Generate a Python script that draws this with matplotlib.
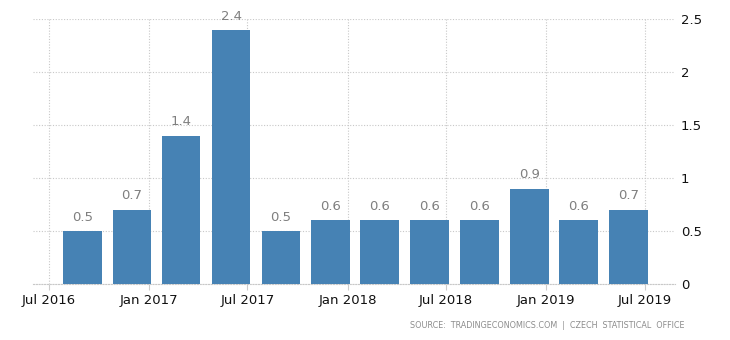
import numpy as np
import pandas as pd
from matplotlib import pyplot as plt
import matplotlib.dates as mdates

# quarterly values (bars drawn at first day of last month of quarter)
dates = pd.to_datetime(["2016-09-01", "2016-12-01", "2017-03-01", "2017-06-01",
                        "2017-09-01", "2017-12-01", "2018-03-01", "2018-06-01",
                        "2018-09-01", "2018-12-01", "2019-03-01", "2019-06-01"])
values = [0.5, 0.7, 1.4, 2.4, 0.5, 0.6, 0.6, 0.6, 0.6, 0.9, 0.6, 0.7]
tick_dates = pd.to_datetime(["2016-07-01", "2017-01-01", "2017-07-01", "2018-01-01",
                             "2018-07-01", "2019-01-01", "2019-07-01"])
tick_labels = ["Jul 2016", "Jan 2017", "Jul 2017", "Jan 2018",
               "Jul 2018", "Jan 2019", "Jul 2019"]
y_ticks = [0, 0.5, 1, 1.5, 2, 2.5]
y_labels = ["0", "0.5", "1", "1.5", "2", "2.5"]

fig = plt.figure(figsize=(7.3, 3.4), dpi=100)
ax = fig.add_axes([0.045, 0.165, 0.88, 0.778])

x = mdates.date2num(dates)
ax.bar(x, values, width=71, color="#4682b4", zorder=3)
for xi, v in zip(x, values):
    ax.text(xi, v + 0.07, f"{v:.1f}", ha="center", va="bottom",
            fontsize=9.5, color="#7f7f7f", zorder=4)

ax.set_xlim(mdates.date2num(pd.Timestamp("2016-06-02")),
            mdates.date2num(pd.Timestamp("2019-08-26")))
ax.set_ylim(0, 2.5)
ax.set_xticks(mdates.date2num(tick_dates))
ax.set_xticklabels(tick_labels, fontsize=9.5, color="#111111")
ax.set_yticks(y_ticks)
ax.set_yticklabels(y_labels, fontsize=9.5, color="#111111")
ax.yaxis.tick_right()
ax.tick_params(axis="y", length=0, pad=4)
ax.tick_params(axis="x", length=4, color="#cccccc", pad=3)

ax.grid(True, color="#c8c8c8", linestyle=(0, (1, 1.5)), linewidth=0.8, zorder=0)
for s in ["top", "right", "left"]:
    ax.spines[s].set_visible(False)
ax.spines["bottom"].set_color("#c8c8c8")
ax.spines["bottom"].set_linestyle((0, (1, 1.5)))
ax.spines["bottom"].set_linewidth(0.8)

fig.text(0.938, 0.043, "SOURCE:  TRADINGECONOMICS.COM  |  CZECH  STATISTICAL  OFFICE",
         ha="right", va="center", fontsize=5.8, color="#8c8c8c")

fig.savefig("out.png", dpi=100)
